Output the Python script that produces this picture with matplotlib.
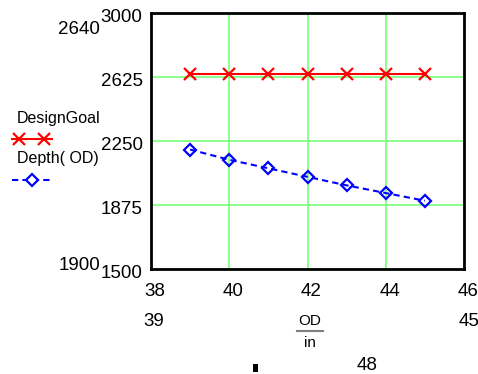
import matplotlib
matplotlib.use("Agg")
import matplotlib.pyplot as plt
from matplotlib.lines import Line2D
from matplotlib.transforms import ScaledTranslation

# ---- data ----
od = [39, 40, 41, 42, 43, 44, 45]
design_goal = [2640, 2640, 2640, 2640, 2640, 2640, 2640]
depth = [2200, 2140, 2090, 2040, 1990, 1945, 1900]
x_ticks = [38, 40, 42, 44, 46]
y_ticks = [1500, 1875, 2250, 2625, 3000]
x_labels = ["38", "40", "42", "44", "46"]
y_labels = ["1500", "1875", "2250", "2625", "3000"]
series_names = ["DesignGoal", "Depth( OD)"]

W, H = 478, 374
plt.rcParams['font.family'] = ['Liberation Sans', 'DejaVu Sans']

fig = plt.figure(figsize=(W / 100, H / 100), dpi=100)
L, R, T, B = 151, 464, 13, 269
ax = fig.add_axes([L / W, 1 - B / H, (R - L) / W, (B - T) / H])

ax.plot(od, design_goal, color='#ff0000', lw=1.5, marker='x', ms=9, mew=1.6, zorder=3, clip_on=False)
ax.plot(od, depth, color='#0000ff', lw=1.5, ls=(0, (3, 2)), marker='D', ms=6.5, mew=1.6,
        mfc='none', zorder=3, clip_on=False)

ax.set_xlim(38, 46)
ax.set_ylim(1500, 3000)
ax.set_xticks(x_ticks)
ax.set_xticklabels(x_labels)
ax.set_yticks(y_ticks)
ax.set_yticklabels(y_labels)
ax.tick_params(length=0, labelsize=13.5)
ax.tick_params(axis='x', pad=10)
ax.tick_params(axis='y', pad=6)
for lab in ax.get_xticklabels():
    lab.set_transform(lab.get_transform() + ScaledTranslation(4 / 100, 0, fig.dpi_scale_trans))
for lab in ax.get_yticklabels():
    lab.set_transform(lab.get_transform() + ScaledTranslation(0, -2 / 100, fig.dpi_scale_trans))

ax.grid(True, color='#80ff80', lw=1.3)
ax.set_axisbelow(True)
for s in ax.spines.values():
    s.set_linewidth(2)
    s.set_color('black')

def px(x, y):
    return x / W, 1 - y / H

# extra Mathcad annotations
fig.text(*px(100, 30), "2640", ha='right', va='center', fontsize=13.5)
fig.text(*px(100, 265), "1900", ha='right', va='center', fontsize=13.5)
fig.text(*px(154, 322), "39", ha='center', va='center', fontsize=13.5)
fig.text(*px(469, 322), "45", ha='center', va='center', fontsize=13.5)
fig.text(*px(367, 365), "48", ha='center', va='center', fontsize=13.5)
fig.text(*px(310, 321), "OD", ha='center', va='center', fontsize=11)
fig.text(*px(310, 343), "in", ha='center', va='center', fontsize=11)
fig.add_artist(Line2D([297 / W, 323 / W], [1 - 331 / H, 1 - 331 / H], color='#808080', lw=1.5))
fig.add_artist(plt.Rectangle(px(253, 372), 5 / W, 8 / H, color='black', lw=0))

# legend (Mathcad style)
fig.text(*px(17, 123), series_names[0], ha='left', va='baseline', fontsize=11.5)
fig.add_artist(Line2D([12 / W, 52 / W], [1 - 139 / H] * 2, color='#ff0000', lw=1.5))
fig.add_artist(Line2D([19 / W, 44 / W], [1 - 139 / H] * 2, color='#ff0000', lw=0,
                      marker='x', ms=9, mew=1.6))
fig.text(*px(17, 163), series_names[1], ha='left', va='baseline', fontsize=11.5)
fig.add_artist(Line2D([12 / W, 53 / W], [1 - 180 / H] * 2, color='#0000ff', lw=1.5, ls=(0, (3, 2))))
fig.add_artist(Line2D([32 / W], [1 - 180 / H], color='#0000ff', lw=0, marker='D', ms=6.5,
                      mew=1.6, mfc='white'))

fig.savefig("out.png", dpi=100)
